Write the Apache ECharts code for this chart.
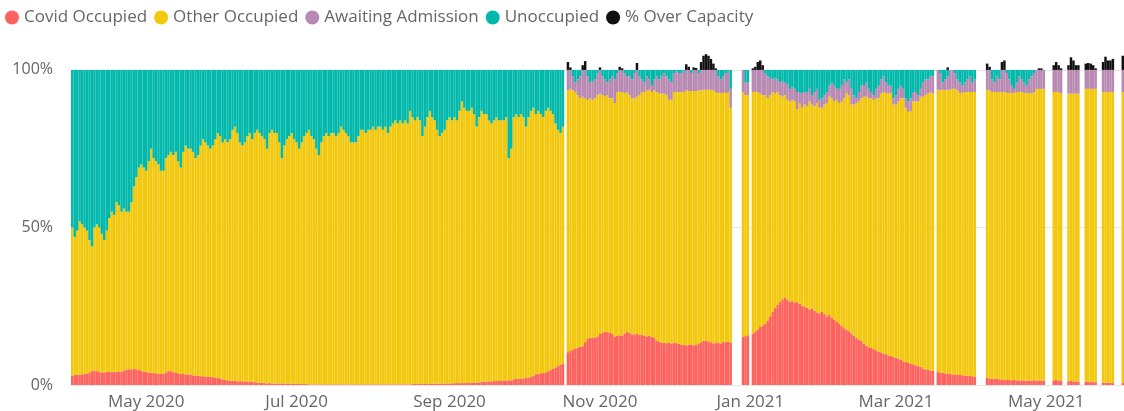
<!DOCTYPE html>
<html>
<head>
<meta charset="utf-8">
<title>Bed occupancy</title>
<script src="https://cdn.jsdelivr.net/npm/echarts@6/dist/echarts.min.js"></script>
<style>
  html, body { margin: 0; padding: 0; background: #ffffff; }
  #chart { width: 1124px; height: 411px; }
</style>
</head>
<body>
<div id="chart"></div>
<script>
// Daily bed occupancy as % of capacity, 1 Apr 2020 – 1 Jun 2021 (null = no return that day)
const firstDay = '2020-04-01';

const covid = [
  3.0,3.2,3.2,3.3,3.4,3.5,3.6,4.0,4.4,4.6,
  4.4,4.3,4.0,4.0,4.1,4.2,4.1,4.1,4.2,4.3,
  4.2,4.6,4.9,5.0,5.0,5.1,5.0,4.8,4.6,4.3,
  4.1,4.0,3.9,3.8,3.7,3.6,3.5,3.6,4.0,4.5,
  4.4,4.1,3.8,3.7,3.6,3.5,3.4,3.3,3.3,3.1,
  3.0,2.9,2.8,2.8,2.7,2.6,2.6,2.5,2.4,2.3,
  2.0,1.8,1.6,1.5,1.4,1.3,1.3,1.2,1.2,1.2,
  1.1,1.1,1.1,1.0,0.9,0.8,0.7,0.7,0.6,0.5,
  0.6,0.5,0.5,0.4,0.5,0.5,0.4,0.4,0.5,0.4,
  0.4,0.4,0.3,0.3,0.3,0.3,0.2,0.2,0.2,0.2,
  0.2,0.2,0.2,0.2,0.2,0.2,0.2,0.2,0.2,0.2,
  0.2,0.2,0.2,0.2,0.2,0.2,0.2,0.2,0.2,0.2,
  0.2,0.2,0.2,0.2,0.2,0.2,0.2,0.2,0.2,0.2,
  0.2,0.2,0.2,0.2,0.2,0.2,0.2,0.2,0.3,0.3,
  0.3,0.3,0.3,0.3,0.3,0.3,0.4,0.4,0.4,0.4,
  0.5,0.5,0.5,0.5,0.5,0.6,0.6,0.6,0.6,0.6,
  0.6,0.7,0.7,0.7,0.8,0.8,1.0,1.0,1.1,1.1,
  1.2,1.2,1.3,1.3,1.3,1.4,1.4,1.5,1.5,1.8,
  1.9,2.0,2.0,2.1,2.2,2.4,2.6,3.0,3.4,3.6,
  3.7,3.8,4.0,4.4,4.8,5.2,5.6,6.0,6.4,6.8,
  null,10.4,10.8,11.3,11.6,11.8,12.1,12.3,13.6,14.6,
  15.0,15.1,14.9,15.4,16.2,16.5,16.9,16.8,16.5,16.2,
  15.4,15.6,15.8,15.7,16.4,16.8,16.5,16.0,16.1,16.2,
  15.9,15.9,15.6,15.4,15.6,15.3,14.9,14.2,13.7,13.5,
  13.4,13.3,13.4,13.2,13.4,13.3,13.1,12.8,12.7,12.6,
  12.8,12.9,12.6,12.7,13.1,13.6,14.0,14.1,13.9,13.6,
  13.2,13.3,13.5,13.2,13.7,13.6,13.7,13.5,null,null,
  null,null,15.3,15.5,15.8,null,16.3,17.0,17.6,18.4,
  18.9,19.4,20.5,21.8,23.2,24.4,25.4,26.3,27.2,27.8,
  27.0,26.5,26.6,26.2,26.3,25.8,25.2,24.9,24.5,24.0,
  24.3,23.5,23.0,22.8,23.2,22.5,21.8,22.4,21.3,20.8,
  20.2,19.4,18.8,18.0,17.5,17.1,16.4,15.6,14.9,14.4,
  14.0,13.2,12.5,12.0,11.8,11.4,11.0,10.6,10.4,10.0,
  9.8,9.4,9.2,8.9,8.6,8.3,8.1,7.5,7.3,7.0,
  6.8,6.6,6.3,6.0,5.8,5.2,5.0,4.8,4.6,4.5,
  null,4.1,4.0,3.8,3.7,3.6,3.5,3.4,3.3,3.2,
  3.2,3.1,3.0,3.0,2.9,2.8,2.7,null,null,null,
  null,2.2,2.1,2.0,2.0,1.9,1.8,1.7,1.7,1.6,
  1.6,1.5,1.6,1.5,1.4,1.5,1.4,1.4,1.3,1.4,
  1.5,1.4,1.4,1.3,1.4,null,null,null,1.5,1.6,
  1.5,1.4,null,null,1.2,1.3,1.2,1.1,1.1,null,
  null,1.0,1.0,1.0,0.9,0.9,null,null,0.8,0.7,
  0.7,0.7,0.6,null,null,null,0.6
];

const otherOccupied = [
  47.0,43.8,45.8,48.7,47.6,46.5,45.4,42.0,39.6,45.4,
  46.6,45.7,44.0,42.0,44.9,48.8,50.9,49.9,53.8,52.7,
  50.8,51.4,50.1,50.0,53.0,57.9,61.0,64.2,65.4,64.7,
  63.9,67.0,71.1,68.2,67.3,66.4,64.5,64.4,68.0,68.5,
  69.6,68.9,70.2,67.3,65.4,70.5,72.6,71.7,71.7,70.9,
  69.0,70.1,73.2,75.2,74.3,73.4,72.4,73.5,75.6,77.7,
  77.0,75.2,76.4,75.5,76.6,79.7,80.7,78.8,75.8,74.8,
  75.9,77.9,78.9,77.0,79.1,80.2,79.3,78.3,77.4,74.5,
  79.4,80.5,79.5,79.6,76.5,71.5,75.6,77.6,78.5,79.6,
  77.6,76.6,74.7,76.7,78.7,79.7,80.8,78.8,77.8,74.8,
  72.8,76.8,78.8,79.8,78.8,79.8,79.8,78.8,79.8,81.8,
  80.8,79.8,78.8,76.8,76.8,76.8,78.8,80.8,80.8,79.8,
  80.8,80.8,81.8,80.8,81.8,81.8,80.8,81.8,79.8,81.8,
  82.8,83.8,82.8,83.8,82.8,83.8,82.8,86.8,84.7,83.7,
  84.7,83.7,78.7,81.7,84.7,86.7,84.6,83.6,80.6,78.6,
  79.5,80.5,83.5,84.5,83.5,84.4,83.4,86.4,89.4,87.4,
  86.4,86.3,87.3,85.3,81.2,84.2,86.0,85.0,84.9,82.9,
  81.8,82.8,83.7,82.7,82.7,82.6,83.6,70.5,73.5,83.2,
  84.1,83.0,84.0,82.9,79.8,82.6,84.4,85.0,82.6,83.4,
  82.3,81.2,83.0,83.6,82.2,80.8,77.4,75.0,73.6,75.2,
  null,83.1,83.2,82.2,81.4,80.2,78.9,79.2,77.4,75.9,
  76.0,75.4,76.1,76.6,76.3,75.5,74.6,75.2,74.5,74.8,
  74.1,77.4,77.2,77.3,76.1,76.2,75.5,75.0,74.9,75.3,
  76.1,77.1,77.4,78.1,78.1,77.7,78.6,78.8,78.8,79.0,
  79.1,78.7,77.1,77.3,79.6,79.7,79.9,80.2,80.3,80.9,
  80.5,80.4,80.7,80.6,80.4,79.9,79.7,79.6,79.8,80.1,
  80.3,79.7,79.2,79.5,79.0,79.1,79.3,74.5,null,null,
  null,null,77.7,76.5,76.2,null,76.7,76.0,75.4,74.1,
  73.1,72.6,70.5,70.2,69.8,68.1,67.6,65.7,64.3,64.2,
  63.5,63.5,63.9,63.8,61.2,63.7,62.8,64.1,64.0,66.0,
  64.7,65.0,66.5,65.2,64.8,66.5,67.7,69.1,69.7,69.2,
  70.3,70.1,71.2,73.0,75.2,74.9,72.6,73.4,74.6,75.6,
  77.0,78.3,79.0,79.0,79.2,79.1,80.0,80.4,82.1,83.0,
  82.9,83.1,83.5,80.1,80.4,81.7,82.9,83.5,80.7,79.7,
  80.2,83.4,83.7,84.0,85.7,86.3,87.0,87.7,88.4,88.0,
  null,89.6,89.5,89.9,89.8,90.1,90.2,90.6,90.7,90.3,
  89.5,89.6,90.0,90.0,90.1,90.2,90.3,null,null,null,
  null,91.5,91.4,91.0,91.0,91.1,91.2,91.3,91.3,91.1,
  91.1,91.2,91.1,91.5,91.6,91.5,91.3,91.3,91.4,91.1,
  91.5,92.6,92.6,92.7,92.6,null,null,null,91.5,91.4,
  91.5,91.1,null,null,91.3,91.2,91.3,91.4,91.4,null,
  null,93.0,93.0,93.0,93.1,93.1,null,null,92.2,92.3,
  92.3,92.3,92.4,null,null,null,92.4
];

// Awaiting-admission and over-capacity returns begin on 19 Oct 2020
const trackedFrom = '2020-10-19';

const awaitingAdmission = [
  6.5,6.0,4.5,3.0,5.0,7.0,8.5,9.0,7.5,
  5.0,6.0,6.0,7.0,7.5,6.0,5.5,4.0,6.0,7.0,
  7.5,6.0,7.0,7.0,6.5,5.0,6.0,6.0,8.0,8.5,
  6.0,4.0,3.0,4.5,3.3,2.0,3.5,5.0,4.5,5.5,
  6.5,6.0,6.5,5.5,6.0,6.5,6.0,6.0,6.5,6.5,
  6.7,5.7,6.7,6.7,5.5,6.5,6.3,6.3,6.3,6.3,
  6.5,7.0,5.3,4.3,5.3,6.3,6.5,6.0,null,null,
  null,null,7.0,4.0,4.0,null,7.0,7.0,7.0,7.5,
  8.0,7.0,7.0,5.5,4.0,5.0,4.0,4.0,5.0,4.0,
  5.0,4.0,4.0,4.0,5.5,3.5,4.5,4.0,4.5,4.0,
  3.0,4.5,4.5,2.5,3.0,3.0,3.5,3.5,5.0,5.0,
  3.5,4.5,5.0,6.0,3.3,5.0,5.0,3.0,1.5,3.0,
  4.0,3.5,4.5,3.0,2.0,1.5,3.0,4.0,4.5,5.0,
  3.3,2.5,2.3,2.0,3.0,4.0,4.0,3.0,3.0,3.3,
  4.0,3.0,3.0,2.0,2.5,4.5,5.0,4.5,5.0,5.5,
  null,6.3,5.5,2.3,3.5,4.3,6.3,6.0,5.0,3.5,
  3.3,2.3,3.0,4.0,5.0,3.0,4.0,null,null,null,
  null,6.3,6.5,4.0,3.0,5.0,4.0,7.0,7.0,6.3,
  4.3,2.3,1.3,3.0,5.0,4.0,3.3,2.3,4.3,5.5,
  6.0,6.0,6.0,6.0,6.0,null,null,null,7.0,7.0,
  7.0,7.5,null,null,7.5,7.5,7.5,7.5,7.5,null,
  null,6.0,6.0,6.0,6.0,6.0,null,null,7.0,7.0,
  7.0,7.0,7.0,null,null,null,7.0
];

const overCapacity = [
  2.5,0.8,0,0,0,0,1.5,2.8,0,
  0,0,0,0,0.8,0,0,0,0,0,
  0,0,1.0,0.5,0,0,0,0,0,2.2,
  0,0,0,0,0,0,0,0,0,0,
  0,0,0,0,0,0,0,0,0,1.8,
  1.0,0,0.8,0.6,0,2.5,4.5,5.0,4.5,3.5,
  2.0,0.5,0,0,0,0,0,0,null,null,
  null,null,0,0,0,null,0.5,1.0,2.5,3.0,
  1.5,0,0,0,0,0,0,0,0,0,
  0,0,0,0,0,0,0,0,0,0,
  0,0,0,0,0,0,0,0,0,0,
  0,0,0,0,0,0,0,0,0,0,
  0,0,0,0,0,0,0,0,0,0,
  0,0,0,0,0,0,0,0,0,0,
  0,0,0,0,0,0,0,0,0,0,
  null,0,0,0,0,0.8,0,0,0,0,
  0,0,0,0,0,0,0,null,null,null,
  null,2.0,1.0,0,0,0,0,2.5,3.0,0,
  0,0,0,0,0,0,0,0,0,0,
  0,0,0.5,0.5,0,null,null,null,1.5,2.5,
  1.5,0.5,null,null,1.5,4.0,3.0,1.5,1.5,null,
  null,2.0,2.2,2.0,1.5,0.5,null,null,2.5,4.2,
  3.0,3.0,3.5,null,null,null,4.5
];

const tickDates  = ['2020-05-01','2020-07-01','2020-09-01','2020-11-01','2021-01-01','2021-03-01','2021-05-01'];
const tickLabels = ['May 2020','Jul 2020','Sep 2020','Nov 2020','Jan 2021','Mar 2021','May 2021'];

const seriesNames  = ['Covid Occupied','Other Occupied','Awaiting Admission','Unoccupied','% Over Capacity'];
const seriesColors = ['#FD625E','#F2C80F','#B889B2','#01B8AA','#111111'];

// ---- build the day axis ----
const DAY = 86400000;
const t0 = Date.parse(firstDay + 'T00:00:00Z');
const days = covid.map((_, i) => new Date(t0 + i * DAY).toISOString().slice(0, 10));
const trackedOffset = days.indexOf(trackedFrom);
const alignTracked = arr => days.map((_, i) => (i >= trackedOffset ? arr[i - trackedOffset] : null));

const awaitingByDay = alignTracked(awaitingAdmission);
const overByDay = alignTracked(overCapacity);
// Unoccupied is the remainder of capacity after every occupied category
const unoccupied = covid.map((c, i) => {
  if (c == null) return null;
  const rest = 100 - c - otherOccupied[i] - (awaitingByDay[i] || 0);
  return Math.max(0, Math.round(rest * 10) / 10);
});

const tickText = {};
tickDates.forEach((d, i) => { tickText[d] = tickLabels[i]; });

const FONT = "'Segoe UI', 'Open Sans', 'Noto Sans', sans-serif";
const values = [covid, otherOccupied, awaitingByDay, unoccupied, overByDay];

const chart = echarts.init(document.getElementById('chart'), null, { renderer: 'canvas' });
chart.setOption({
  animation: false,
  color: seriesColors,
  legend: {
    left: 5,
    top: 9,
    padding: 0,
    icon: 'circle',
    itemWidth: 14,
    itemHeight: 14,
    itemGap: 7,
    textStyle: { fontFamily: FONT, fontSize: 17, color: '#666666' },
    data: seriesNames
  },
  grid: { left: 71, right: 0, top: 44.72, bottom: 25, containLabel: false },
  xAxis: {
    type: 'category',
    data: days,
    axisLine: { show: false },
    axisTick: { show: false },
    splitLine: { show: false },
    axisLabel: {
      interval: (idx, val) => tickText[val] !== undefined,
      formatter: val => tickText[val] || '',
      fontFamily: FONT,
      fontSize: 17,
      color: '#666666',
      margin: 9
    }
  },
  yAxis: {
    type: 'value',
    min: 0,
    max: 108,
    interval: 50,
    axisLine: { show: false },
    axisTick: { show: false },
    axisLabel: {
      formatter: v => (v % 50 === 0 ? v + '%' : ''),
      showMaxLabel: false,
      fontFamily: FONT,
      fontSize: 16,
      color: '#666666',
      margin: 18,
      padding: [4, 0, 0, 0]
    },
    splitLine: { show: true, showMaxLine: false, lineStyle: { color: '#e6e6e6', width: 1 } }
  },
  series: seriesNames.map((name, k) => ({
    name,
    type: 'bar',
    stack: 'beds',
    data: values[k],
    barCategoryGap: '0%',
    itemStyle: { color: seriesColors[k] },
    emphasis: { disabled: true }
  }))
});
</script>
</body>
</html>
